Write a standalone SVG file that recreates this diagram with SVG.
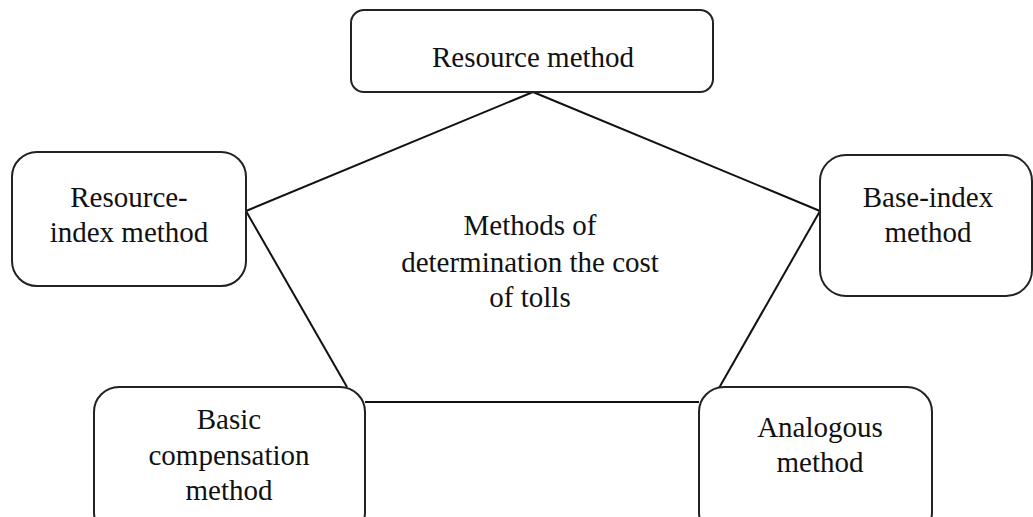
<svg xmlns="http://www.w3.org/2000/svg" width="1033" height="517" viewBox="0 0 1033 517">
<style>
.box{fill:#fff;stroke:#222;stroke-width:2}
.edge{stroke:#111;stroke-width:2;fill:none}
text{font-family:"Liberation Serif","Times New Roman",serif;font-size:29px;fill:#111;text-anchor:middle}
</style>
<rect width="1033" height="517" fill="#fff"/>
<g id="connectors">
<line class="edge" x1="533" y1="92" x2="246" y2="211"/>
<line class="edge" x1="533" y1="92" x2="820" y2="211"/>
<line class="edge" x1="246" y1="211" x2="347" y2="387"/>
<line class="edge" x1="820" y1="211" x2="719" y2="388"/>
<line class="edge" x1="365" y1="402" x2="699" y2="402"/>
</g>
<g id="center">
<text x="530" y="235">Methods of</text>
<text x="530" y="272">determination the cost</text>
<text x="530" y="307">of tolls</text>
</g>
<g id="resource">
<rect class="box" x="351" y="10" width="362" height="82" rx="13"/>
<text x="533" y="67">Resource method</text>
</g>
<g id="resource-index">
<rect class="box" x="12" y="152" width="234" height="134" rx="25"/>
<text x="129" y="207">Resource-</text>
<text x="129" y="242">index method</text>
</g>
<g id="base-index">
<rect class="box" x="820" y="155" width="212" height="141" rx="26"/>
<text x="928" y="207">Base-index</text>
<text x="928" y="242">method</text>
</g>
<g id="basic-compensation">
<rect class="box" x="94" y="387" width="271" height="150" rx="25"/>
<text x="229" y="429">Basic</text>
<text x="229" y="465">compensation</text>
<text x="229" y="500">method</text>
</g>
<g id="analogous">
<rect class="box" x="699" y="387" width="233" height="150" rx="25"/>
<text x="820" y="437">Analogous</text>
<text x="820" y="472">method</text>
</g>
</svg>
